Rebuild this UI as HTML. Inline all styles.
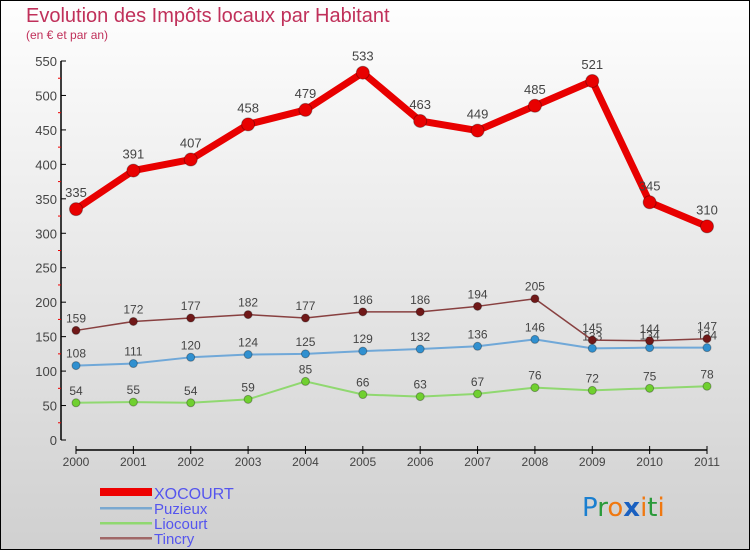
<!DOCTYPE html>
<html><head><meta charset="utf-8"><style>
body{margin:0}
#c{width:750px;height:550px;position:relative;box-sizing:border-box;border:1px solid #000;background:linear-gradient(#fefefe,#d0d0d0);font-family:"Liberation Sans",sans-serif;overflow:hidden}
</style></head><body>
<div id="c">
<svg id="s" width="750" height="550" style="position:absolute;left:-1px;top:-1px">
<text x="26" y="22" font-size="20" fill="#c0305a">Evolution des Impôts locaux par Habitant</text>
<text x="26" y="39" font-size="12" fill="#c0305a">(en € et par an)</text>
<g id="axes"></g><g id="series"></g>
<g>
<rect x="100" y="488" width="52" height="8" fill="#e00"/>
<text x="154" y="499" font-size="16" fill="#5555ee">XOCOURT</text>
<rect x="100" y="507" width="52" height="2.5" fill="#7aa8d0"/>
<text x="154" y="514" font-size="15" fill="#5555ee">Puzieux</text>
<rect x="100" y="522" width="52" height="2.5" fill="#90d870"/>
<text x="154" y="529" font-size="15" fill="#5555ee">Liocourt</text>
<rect x="100" y="537" width="52" height="2.5" fill="#a06868"/>
<text x="154" y="544" font-size="15" fill="#5555ee">Tincry</text>
</g>
<text x="582" y="516" font-size="26" font-family="DejaVu Sans"><tspan fill="#1a7fd0">P</tspan><tspan fill="#2a9a3a">r</tspan><tspan fill="#f07810">o</tspan><tspan fill="#1a60c0" font-weight="bold">x</tspan><tspan fill="#f07810">i</tspan><tspan fill="#2a9a3a">t</tspan><tspan fill="#f07810">i</tspan></text>
</svg></div>
<script>
const years=["2000","2001","2002","2003","2004","2005","2006","2007","2008","2009","2010","2011"];
const yTicks=[0,50,100,150,200,250,300,350,400,450,500,550];
const xocourt=[335,391,407,458,479,533,463,449,485,521,345,310];
const puzieux=[108,111,120,124,125,129,132,136,146,133,134,134];
const liocourt=[54,55,54,59,85,66,63,67,76,72,75,78];
const tincry=[159,172,177,182,177,186,186,194,205,145,144,147];
const NS="http://www.w3.org/2000/svg";
const X=i=>76+i*(707-76)/11, Y=v=>440-v*379/550;
function mk(t,a,p){const e=document.createElementNS(NS,t);for(const k in a)e.setAttribute(k,a[k]);p.appendChild(e);return e;}
const ax=document.getElementById('axes'),se=document.getElementById('series');
let l=mk('line',{x1:61,y1:Y(550),x2:61,y2:Y(0),stroke:'#000','stroke-width':1.5},ax);


yTicks.forEach(v=>{
 mk('line',{x1:61,y1:Y(v),x2:66,y2:Y(v),stroke:'#000'},ax);
 const t=mk('text',{x:57,y:Y(v)+5,'font-size':13,fill:'#444','text-anchor':'end'},ax);t.textContent=v;
 
 
 if(v<550)mk('line',{x1:58,y1:Y(v+25),x2:61,y2:Y(v+25),stroke:'#e00'},ax);
});
l=mk('line',{x1:76,y1:450,x2:707,y2:450,stroke:'#000','stroke-width':1.5},ax);


years.forEach((y,i)=>{
 mk('line',{x1:X(i),y1:446,x2:X(i),y2:454,stroke:'#000'},ax);
 const t=mk('text',{x:X(i),y:466,'font-size':12,fill:'#444','text-anchor':'middle'},ax);t.textContent=y;
 
 
});
function series(d,name,col,w,r,dot,fs,off){
 const g=mk('g',{},se);
 
 
 const p=mk('polyline',{points:d.map((v,i)=>X(i)+','+Y(v)).join(' '),fill:'none',stroke:col,'stroke-width':w,'stroke-linejoin':'round'},g);
 
 
 d.forEach((v,i)=>{
  const c=mk('circle',{cx:X(i),cy:Y(v),r:r,fill:dot,stroke:'rgba(0,0,0,0.3)'},g);
  
  
  const t=mk('text',{x:X(i),y:Y(v)-off,'font-size':fs,fill:'#444','text-anchor':'middle'},g);t.textContent=v;
  
  
 });
}
series(liocourt,'liocourt','#90d870',2,4,'#70d030',12,8);
series(puzieux,'puzieux','#70a8d8',2,4,'#3090d0',12,8);
series(tincry,'tincry','#884040',1.5,4,'#701818',12,8);
series(xocourt,'xocourt','#e80000',7,6.5,'#e80000',13,12);
</script>
</body></html>
